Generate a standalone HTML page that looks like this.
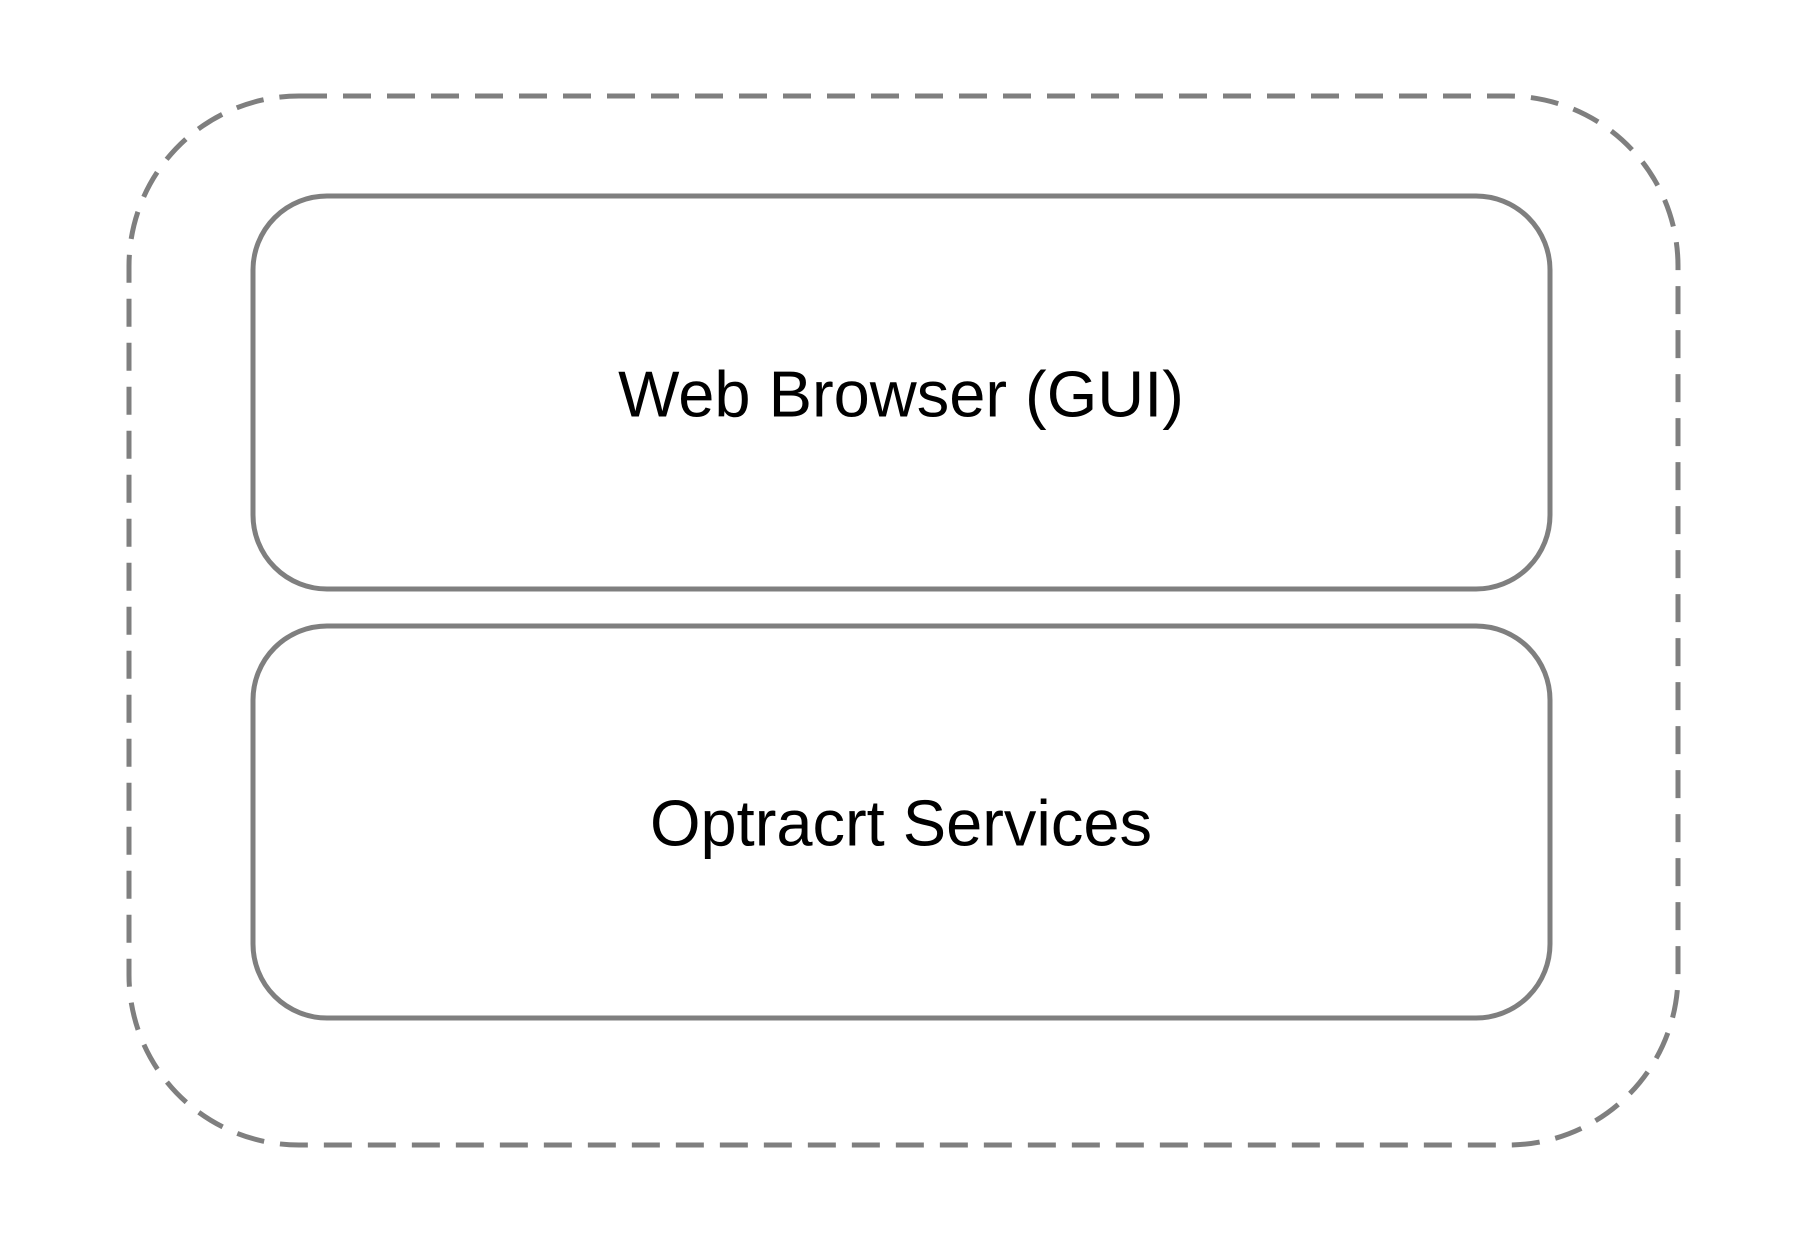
<!DOCTYPE html>
<html><head><meta charset="utf-8"><style>
html,body{margin:0;padding:0;background:#fff;}
svg{display:block;}
</style></head><body>
<svg width="1800" height="1236" viewBox="0 0 1800 1236" xmlns="http://www.w3.org/2000/svg">
<rect x="0" y="0" width="1800" height="1236" fill="#fff"/>
<rect x="129" y="96" width="1549" height="1049" rx="170" ry="170" fill="none" stroke="#7f7f7f" stroke-width="5" stroke-dasharray="28 16"/>
<rect x="253" y="196" width="1297" height="393" rx="74" ry="74" fill="none" stroke="#7f7f7f" stroke-width="5"/>
<rect x="253" y="626" width="1297" height="392" rx="74" ry="74" fill="none" stroke="#7f7f7f" stroke-width="5"/>
<text x="901" y="394" font-family="Liberation Sans, sans-serif" font-size="65" text-anchor="middle" dominant-baseline="central" fill="#000">Web Browser (GUI)</text>
<text x="901" y="823" font-family="Liberation Sans, sans-serif" font-size="65" text-anchor="middle" dominant-baseline="central" fill="#000">Optracrt Services</text>
</svg>
</body></html>
